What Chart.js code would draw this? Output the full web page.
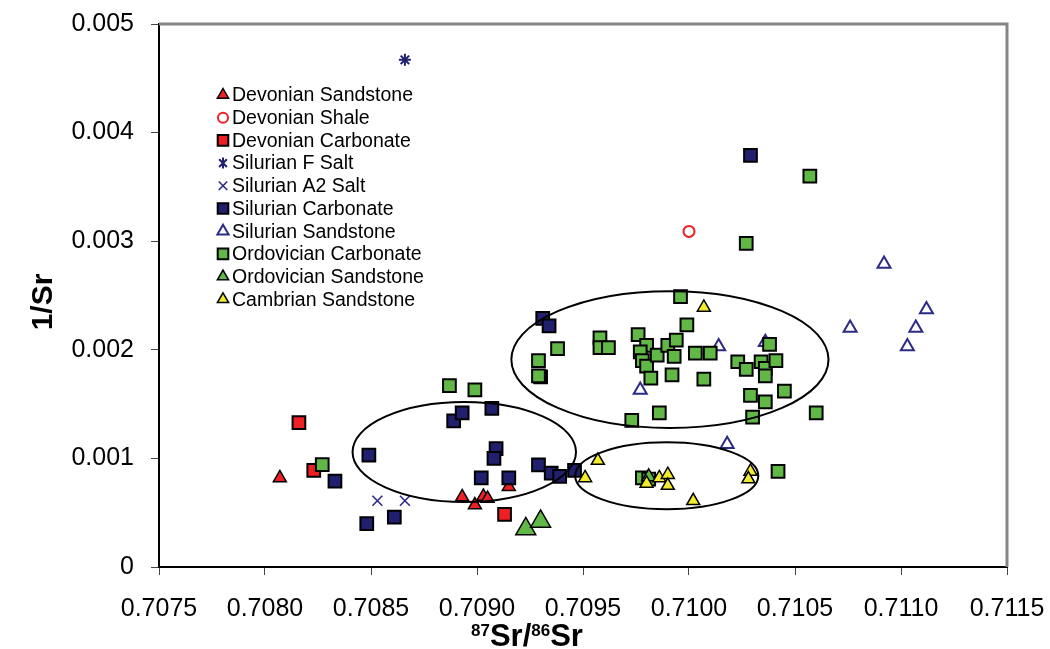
<!DOCTYPE html>
<html>
<head>
<meta charset="utf-8">
<script src="https://cdn.jsdelivr.net/npm/chart.js@4.4.0/dist/chart.umd.min.js"></script>
<style>
  html, body { margin: 0; padding: 0; background: #fff; }
  #wrap { width: 1050px; height: 649px; }
</style>
</head>
<body>
<div id="wrap"><canvas id="grafico" width="1050" height="649"></canvas></div>
<script>
// axis range and tick labels
const xMin = 0.7075, xMax = 0.7115, xStep = 0.0005;
const yMin = 0, yMax = 0.005, yStep = 0.001;

// series values (87Sr/86Sr, 1/Sr)
const devSandstoneX = [0.70807, 0.70893, 0.70899, 0.70903, 0.70905, 0.70915];
const devSandstoneY = [0.00082, 0.000645, 0.00057, 0.00065, 0.00063, 0.00074];

const devShaleX = [0.71000];
const devShaleY = [0.00309];

const devCarbonateX = [0.70816, 0.70823, 0.70913];
const devCarbonateY = [0.00133, 0.00089, 0.000485];

const silFSaltX = [0.70866];
const silFSaltY = [0.00467];

const silA2SaltX = [0.70853, 0.70866];
const silA2SaltY = [0.00061, 0.00061];

const silCarbonateX = [0.70833, 0.70849, 0.70848, 0.70861, 0.70889, 0.70893, 0.70907, 0.70909, 0.70908, 0.70902,
                       0.70915, 0.70929, 0.70935, 0.70939, 0.70946, 0.70931, 0.70934, 0.70930, 0.71029];
const silCarbonateY = [0.00079, 0.00103, 0.00040, 0.00046, 0.001345, 0.00142, 0.00146, 0.00109, 0.00100, 0.00082,
                       0.00082, 0.00094, 0.000865, 0.000835, 0.00089, 0.00229, 0.00222, 0.00175, 0.00379];

const silSandstoneX = [0.71014, 0.71036, 0.70977, 0.71018, 0.71092, 0.71112, 0.71076, 0.71107, 0.71103];
const silSandstoneY = [0.00203, 0.00207, 0.00163, 0.00113, 0.00279, 0.00237, 0.00220, 0.00220, 0.00203];

const ordCarbonateX = [0.70827, 0.70887, 0.70899, 0.70996, 0.70999, 0.70938, 0.70929, 0.70929, 0.70958, 0.70958,
                       0.70962, 0.70976, 0.70980, 0.70977, 0.70978, 0.70980, 0.70985, 0.70982, 0.70990, 0.70994,
                       0.70993, 0.70992, 0.71003, 0.71010, 0.71007, 0.71023, 0.71027, 0.71034, 0.71036, 0.71036,
                       0.71038, 0.71041, 0.71029, 0.71036, 0.71045, 0.71030, 0.71060, 0.70986, 0.70973, 0.70978,
                       0.70981, 0.71042, 0.71057, 0.71027];
const ordCarbonateY = [0.000943, 0.00167, 0.00163, 0.00249, 0.00223, 0.00201, 0.00190, 0.00176, 0.00211, 0.00202,
                       0.00202, 0.00214, 0.00204, 0.00198, 0.00190, 0.00185, 0.00195, 0.00174, 0.00204, 0.00209,
                       0.00194, 0.00177, 0.00197, 0.00197, 0.00173, 0.00189, 0.00182, 0.00189, 0.00183, 0.00176,
                       0.00205, 0.00190, 0.00158, 0.00152, 0.00162, 0.00138, 0.00142, 0.00142, 0.00135, 0.00082,
                       0.00081, 0.00088, 0.00360, 0.00298];

const ordSandstoneX = [0.70923, 0.70930, 0.70981];
const ordSandstoneY = [0.00035, 0.00042, 0.00083];

const cambSandstoneX = [0.70957, 0.70951, 0.70980, 0.70986, 0.70990, 0.70990, 0.71002, 0.71029, 0.71028, 0.71007];
const cambSandstoneY = [0.00098, 0.00082, 0.00077, 0.00082, 0.00085, 0.00075, 0.00061, 0.00088, 0.00081, 0.00239];

// the three grouping ellipses, in data units: centre x, centre y, half width, half height
const ellipseCX = [0.70991, 0.70894, 0.709895];
const ellipseCY = [0.00191, 0.001059, 0.00084];
const ellipseRX = [0.000748, 0.000527, 0.000432];
const ellipseRY = [0.00063, 0.00046, 0.000308];

const FONT = "'Liberation Sans', Arial, Helvetica, sans-serif";
const RED = '#ee2024', NAVY = '#20206e', GREEN = '#62b846', YELLOW = '#f2ec2c', HOLLOW_NAVY = '#2b2b86';

function puntos(xs, ys) {
    return xs.map((x, i) => ({ x: x, y: ys[i] }));
}

const series = [
    { label: 'Devonian Sandstone', data: puntos(devSandstoneX, devSandstoneY), pointStyle: 'triangle', backgroundColor: RED, borderColor: '#000', borderWidth: 1.5, radius: 7.5, legendR: 6.5 },
    { label: 'Devonian Shale', data: puntos(devShaleX, devShaleY), pointStyle: 'circle', backgroundColor: 'rgba(0,0,0,0)', borderColor: RED, borderWidth: 2, radius: 5.5, legendR: 5 },
    { label: 'Devonian Carbonate', data: puntos(devCarbonateX, devCarbonateY), pointStyle: 'rect', backgroundColor: RED, borderColor: '#000', borderWidth: 2, radius: 9, legendR: 7.5 },
    { label: 'Silurian F Salt', data: puntos(silFSaltX, silFSaltY), pointStyle: 'star', backgroundColor: NAVY, borderColor: NAVY, borderWidth: 2, radius: 6, legendR: 5.5 },
    { label: 'Silurian A2 Salt', data: puntos(silA2SaltX, silA2SaltY), pointStyle: 'crossRot', backgroundColor: NAVY, borderColor: HOLLOW_NAVY, borderWidth: 1.6, radius: 7, legendR: 6 },
    { label: 'Silurian Carbonate', data: puntos(silCarbonateX, silCarbonateY), pointStyle: 'rect', backgroundColor: NAVY, borderColor: '#000', borderWidth: 2, radius: 9, legendR: 7.5 },
    { label: 'Silurian Sandstone', data: puntos(silSandstoneX, silSandstoneY), pointStyle: 'triangle', backgroundColor: 'rgba(0,0,0,0)', borderColor: HOLLOW_NAVY, borderWidth: 2, radius: 7.5, legendR: 6.5 },
    { label: 'Ordovician Carbonate', data: puntos(ordCarbonateX, ordCarbonateY), pointStyle: 'rect', backgroundColor: GREEN, borderColor: '#000', borderWidth: 2, radius: 9, legendR: 7.5 },
    { label: 'Ordovician Sandstone', data: puntos(ordSandstoneX, ordSandstoneY), pointStyle: 'triangle', backgroundColor: GREEN, borderColor: '#000', borderWidth: 1.5, radius: [11.5, 11.5, 8], legendR: 6.5 },
    { label: 'Cambrian Sandstone', data: puntos(cambSandstoneX, cambSandstoneY), pointStyle: 'triangle', backgroundColor: YELLOW, borderColor: '#000', borderWidth: 1.5, radius: 7.5, legendR: 6.5 }
];

const datasets = series.map((s, i) => ({
    label: s.label,
    data: s.data,
    showLine: false,
    pointStyle: s.pointStyle,
    pointRadius: s.radius,
    pointBackgroundColor: s.backgroundColor,
    pointBorderColor: s.borderColor,
    pointBorderWidth: s.borderWidth,
    order: -i, // later series on top, like the original
    legendR: s.legendR
}));

function dibujarMarcador(ctx, estilo, x, y, r) {
    ctx.beginPath();
    if (estilo === 'rect') {
        const s = r * Math.SQRT1_2;
        ctx.rect(x - s, y - s, 2 * s, 2 * s);
    } else if (estilo === 'circle') {
        ctx.arc(x, y, r, 0, Math.PI * 2);
    } else if (estilo === 'triangle') {
        ctx.moveTo(x, y - r);
        ctx.lineTo(x + r * 0.866, y + r * 0.5);
        ctx.lineTo(x - r * 0.866, y + r * 0.5);
        ctx.closePath();
    } else if (estilo === 'crossRot' || estilo === 'star') {
        const d = r * Math.SQRT1_2;
        ctx.moveTo(x - d, y - d); ctx.lineTo(x + d, y + d);
        ctx.moveTo(x - d, y + d); ctx.lineTo(x + d, y - d);
        if (estilo === 'star') { ctx.moveTo(x, y - r); ctx.lineTo(x, y + r); }
    }
    if (estilo !== 'crossRot' && estilo !== 'star') ctx.fill();
    ctx.stroke();
}

const marcoYElipses = {
    id: 'marcoYElipses',
    beforeDatasetsDraw(chart) {
        const { ctx, chartArea: a } = chart;
        ctx.save();
        ctx.strokeStyle = '#858585';
        ctx.lineWidth = 3;
        ctx.beginPath();
        ctx.moveTo(a.left, a.top);
        ctx.lineTo(a.right, a.top);
        ctx.lineTo(a.right, a.bottom);
        ctx.stroke();
        ctx.restore();
    },
    afterDatasetsDraw(chart) {
        const { ctx } = chart;
        const xs = chart.scales.x, ys = chart.scales.y;
        ctx.save();
        ctx.strokeStyle = '#000';
        ctx.lineWidth = 2;
        for (let i = 0; i < ellipseCX.length; i++) {
            const cx = xs.getPixelForValue(ellipseCX[i]);
            const cy = ys.getPixelForValue(ellipseCY[i]);
            const rx = xs.getPixelForValue(ellipseCX[i] + ellipseRX[i]) - cx;
            const ry = cy - ys.getPixelForValue(ellipseCY[i] + ellipseRY[i]);
            ctx.beginPath();
            ctx.ellipse(cx, cy, rx, ry, 0, 0, Math.PI * 2);
            ctx.stroke();
        }
        ctx.restore();
    },
    afterDraw(chart) {
        const { ctx } = chart;
        ctx.save();
        // legend inside the plot
        ctx.font = '19.5px ' + FONT;
        ctx.textBaseline = 'middle';
        ctx.textAlign = 'left';
        chart.data.datasets.forEach((ds, i) => {
            const y = 95 + i * 22.7;
            ctx.fillStyle = ds.pointBackgroundColor;
            ctx.strokeStyle = ds.pointBorderColor;
            ctx.lineWidth = Math.min(ds.pointBorderWidth, 2);
            dibujarMarcador(ctx, ds.pointStyle, 223, y, ds.legendR);
            ctx.fillStyle = '#000';
            ctx.fillText(ds.label, 232, y + 1);
        });

        // y title
        ctx.fillStyle = '#000';
        ctx.font = 'bold 30px ' + FONT;
        ctx.textBaseline = 'alphabetic';
        ctx.textAlign = 'center';
        ctx.translate(52, 302);
        ctx.rotate(-Math.PI / 2);
        ctx.fillText('1/Sr', 0, 0);
        ctx.setTransform(1, 0, 0, 1, 0, 0);

        // x title with superscripts
        const partes = [['87', true], ['Sr/', false], ['86', true], ['Sr', false]];
        ctx.textAlign = 'left';
        let x = 471;
        partes.forEach(([t, sup]) => {
            ctx.font = (sup ? 'bold 17px ' : 'bold 31px ') + FONT;
            ctx.fillText(t, x, sup ? 636 : 646);
            x += ctx.measureText(t).width;
        });
        ctx.restore();
    }
};

const ctx = document.getElementById('grafico').getContext('2d');
new Chart(ctx, {
    type: 'scatter',
    data: { datasets: datasets },
    options: {
        responsive: false,
        animation: false,
        layout: { padding: { top: 24, right: 43, left: 0, bottom: 0 } },
        plugins: { legend: { display: false }, tooltip: { enabled: false } },
        scales: {
            x: {
                type: 'linear',
                min: xMin,
                max: xMax,
                ticks: {
                    stepSize: xStep,
                    autoSkip: false,
                    maxRotation: 0,
                    padding: 19,
                    color: '#000',
                    font: { family: FONT, size: 25 },
                    callback: v => v.toFixed(4)
                },
                grid: { drawOnChartArea: false, drawTicks: true, tickLength: 8, color: '#444', lineWidth: 1 },
                border: { display: true, color: '#000', width: 2 },
                afterFit: s => { s.height = 82; s.paddingLeft = 0; s.paddingRight = 0; }
            },
            y: {
                type: 'linear',
                min: yMin,
                max: yMax,
                ticks: {
                    stepSize: yStep,
                    autoSkip: false,
                    padding: 17,
                    color: '#000',
                    font: { family: FONT, size: 25 },
                    callback: v => (v === 0 ? '0' : v.toFixed(3))
                },
                grid: { drawOnChartArea: false, drawTicks: true, tickLength: 8, color: '#444', lineWidth: 1 },
                border: { display: true, color: '#000', width: 2 },
                afterFit: s => { s.width = 159; s.paddingTop = 0; s.paddingBottom = 0; }
            }
        }
    },
    plugins: [marcoYElipses]
});
</script>
</body>
</html>
